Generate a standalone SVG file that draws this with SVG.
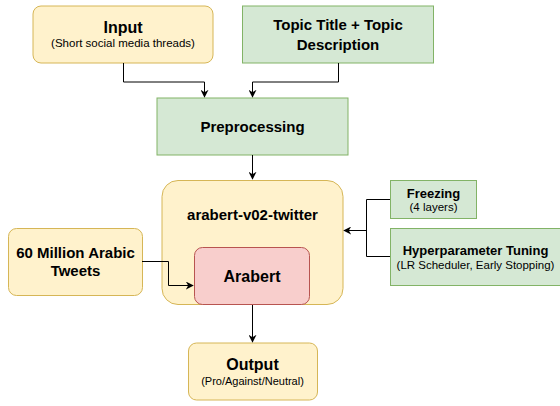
<svg xmlns="http://www.w3.org/2000/svg" width="560" height="406" viewBox="0 0 560 406">
  <defs>
    <marker id="arrow" viewBox="0 0 10 10" refX="9" refY="5" markerWidth="8" markerHeight="8" orient="auto" markerUnits="userSpaceOnUse">
      <path d="M0,0 L10,5 L0,10 L3,5 Z" fill="#000"/>
    </marker>
    <style>
      .yellow { fill: #fff2cc; stroke: #d6b656; stroke-width: 1; }
      .green { fill: #d5e8d4; stroke: #82b366; stroke-width: 1; }
      .red { fill: #f8cecc; stroke: #b85450; stroke-width: 1; }
      text { font-family: "Liberation Sans", Arial, sans-serif; fill: #000; text-anchor: middle; }
      .b16 { font-size: 16px; font-weight: bold; }
      .b15 { font-size: 15px; font-weight: bold; }
      .b13 { font-size: 13px; font-weight: bold; }
      .sub { font-size: 11.5px; }
      .edge { fill: none; stroke: #000; stroke-width: 1; }
    </style>
  </defs>
  <rect width="560" height="406" fill="#fff"/>

  <g id="input">
    <rect class="yellow" x="33" y="6" width="180" height="57" rx="8"/>
    <text class="b16" x="123" y="33">Input</text>
    <text class="sub" x="123" y="47">(Short social media threads)</text>
  </g>

  <g id="topic">
    <rect class="green" x="242.5" y="6" width="191" height="57"/>
    <text class="b15" x="338" y="30">Topic Title + Topic</text>
    <text class="b15" x="338" y="49.5">Description</text>
  </g>

  <g id="preprocessing">
    <rect class="green" x="157" y="98" width="191" height="57"/>
    <text class="b15" x="252.5" y="131.5">Preprocessing</text>
  </g>

  <g id="arabert-v02-twitter">
    <rect class="yellow" x="162" y="180.5" width="181" height="124" rx="16"/>
    <text class="b15" x="252.5" y="220">arabert-v02-twitter</text>
  </g>

  <g id="arabert">
    <rect class="red" x="194.5" y="247.5" width="115" height="57" rx="8"/>
    <text class="b16" x="252" y="281.5">Arabert</text>
  </g>

  <g id="tweets">
    <rect class="yellow" x="8.5" y="228.5" width="134" height="67" rx="8"/>
    <text class="b15" x="75.5" y="257.5">60 Million Arabic</text>
    <text class="b15" x="75.5" y="276">Tweets</text>
  </g>

  <g id="output">
    <rect class="yellow" x="188.5" y="343" width="129" height="57" rx="8"/>
    <text class="b16" x="252.5" y="369.5">Output</text>
    <text class="sub" x="252.5" y="385" style="font-size:11px">(Pro/Against/Neutral)</text>
  </g>

  <g id="freezing">
    <rect class="green" x="390.5" y="180.5" width="86" height="38"/>
    <text class="b13" x="433.5" y="197.5">Freezing</text>
    <text class="sub" x="433.5" y="211">(4 layers)</text>
  </g>

  <g id="hyperparameter">
    <rect class="green" x="390.5" y="228.5" width="175" height="57"/>
    <text class="b13" x="475.5" y="254.5">Hyperparameter Tuning</text>
    <text class="sub" x="475.5" y="268.5">(LR Scheduler, Early Stopping)</text>
  </g>

  <g id="connectors">
    <path class="edge" d="M123.5,63 V82 H204.5 V97" marker-end="url(#arrow)"/>
    <path class="edge" d="M338.5,63 V82 H252.5 V97" marker-end="url(#arrow)"/>
    <path class="edge" d="M252.5,155 V179" marker-end="url(#arrow)"/>
    <path class="edge" d="M142,261.5 H168.5 V285.5 H193" marker-end="url(#arrow)"/>
    <path class="edge" d="M252.5,305 V342" marker-end="url(#arrow)"/>
    <path class="edge" d="M390,199.5 H366.5 V256.5 H390"/>
    <path class="edge" d="M366.5,230.5 H344" marker-end="url(#arrow)"/>
  </g>
</svg>
